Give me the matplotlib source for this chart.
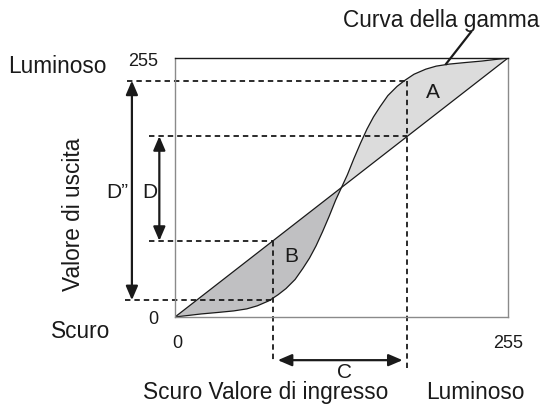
import numpy as np
import matplotlib.pyplot as plt

plt.rcParams['font.family'] = ['Liberation Sans', 'DejaVu Sans']

# gamma curve (input -> output, 0..255)
gamma_in = [0, 10, 20, 33, 45, 55, 63, 72, 79, 85, 92, 98, 103, 108, 113, 118, 123, 127.5,
            132, 137, 142, 147, 152, 157, 163, 170, 176, 183, 192, 200, 210, 222, 235, 245, 255]
gamma_out = [0, 1.5, 3, 4.5, 6, 8, 11, 16, 22, 28, 37, 48, 58, 70, 84, 99, 115, 127.5,
             140, 156, 171, 185, 197, 207, 218, 227, 233, 239, 244, 247, 249, 250.5, 252, 253.5, 255]

# the two input levels marked with dashed guides
input_lo = 75
input_hi = 178

ink = "#1a1a1a"

fig = plt.figure(figsize=(5.44, 4.05), dpi=100)
ax = fig.add_axes([175 / 544, 88 / 405, 333 / 544, 259 / 405])
ax.set_xlim(0, 255)
ax.set_ylim(0, 255)
ax.set_xticks([])
ax.set_yticks([])
for side in ["left", "bottom", "right"]:
    ax.spines[side].set_color("#8a8a8a")
    ax.spines[side].set_linewidth(1.0)
ax.spines["top"].set_color(ink)
ax.spines["top"].set_linewidth(1.0)

gx = np.array(gamma_in, dtype=float)
gy = np.array(gamma_out, dtype=float)

# shaded areas between gamma curve and straight line
ax.fill_between(gx, gx, gy, where=gy >= gx, interpolate=True, color="#dcdcdc", lw=0)
ax.fill_between(gx, gx, gy, where=gy <= gx, interpolate=True, color="#c0c0c2", lw=0)
ax.plot([0, 255], [0, 255], color=ink, lw=0.9)
ax.plot(gx, gy, color=ink, lw=0.9)

# values on the curve / diagonal at the marked inputs
out_lo = np.interp(input_lo, gx, gy) - 2
out_hi = np.interp(input_hi, gx, gy) - 2

dash = dict(color=ink, lw=1.3, ls=(0, (3, 2.2)), clip_on=False)
ax.plot([-37, input_hi], [out_hi, out_hi], **dash)
ax.plot([-20, input_hi], [input_hi, input_hi], **dash)
ax.plot([-20, input_lo], [input_lo, input_lo], **dash)
ax.plot([-38, input_lo], [out_lo, out_lo], **dash)
ax.plot([input_lo, input_lo], [input_lo, -44], **dash)
ax.plot([input_hi, input_hi], [out_hi, -50], **dash)

arrow = dict(arrowstyle="<|-|>,head_length=0.7,head_width=0.3", color=ink, lw=1.6,
             mutation_scale=12, shrinkA=0, shrinkB=0)
ax.annotate("", xy=(-33, out_hi), xytext=(-33, out_lo), arrowprops=arrow, annotation_clip=False)
ax.annotate("", xy=(-12, input_hi), xytext=(-12, input_lo), arrowprops=arrow, annotation_clip=False)
arrow_c = dict(arrow, shrinkA=3.5, shrinkB=3.5)
ax.annotate("", xy=(input_lo, -42.5), xytext=(input_hi, -42.5), arrowprops=arrow_c, annotation_clip=False)


def fx(px):
    return px / 544


def fy(py):
    return 1 - py / 405


# leader line to the curve label
fig.add_artist(plt.Line2D([fx(471), fx(446)], [fy(32), fy(64)], color=ink, lw=1.6))

big = 16.3
fig.text(fx(441), fy(27), "Curva della gamma", ha="center", va="baseline", fontsize=big, color=ink)
fig.text(fx(8), fy(73), "Luminoso", ha="left", va="baseline", fontsize=big, color=ink)
fig.text(fx(110), fy(338), "Scuro", ha="right", va="baseline", fontsize=big, color=ink)
fig.text(fx(73), fy(214), "Valore di uscita", ha="center", va="center", rotation=90,
         fontsize=big, color=ink)
fig.text(fx(143), fy(399), "Scuro Valore di ingresso", ha="left", va="baseline", fontsize=big, color=ink)
fig.text(fx(524), fy(399), "Luminoso", ha="right", va="baseline", fontsize=big, color=ink)

num = 13
fig.text(fx(143), fy(61), "255", ha="center", va="center", fontsize=num, color=ink)
fig.text(fx(153), fy(319), "0", ha="center", va="center", fontsize=num, color=ink)
fig.text(fx(177), fy(343), "0", ha="center", va="center", fontsize=num, color=ink)
fig.text(fx(508), fy(343), "255", ha="center", va="center", fontsize=num, color=ink)

lab = 15
fig.text(fx(433), fy(92), "A", ha="center", va="center", fontsize=lab, color=ink)
fig.text(fx(291), fy(256), "B", ha="center", va="center", fontsize=lab, color=ink)
fig.text(fx(344), fy(373), "C", ha="center", va="center", fontsize=lab, color=ink)
fig.text(fx(150), fy(193), "D", ha="center", va="center", fontsize=lab, color=ink)
fig.text(fx(117), fy(193), "D\u201d", ha="center", va="center", fontsize=lab, color=ink)

fig.savefig("out.png", dpi=100)
